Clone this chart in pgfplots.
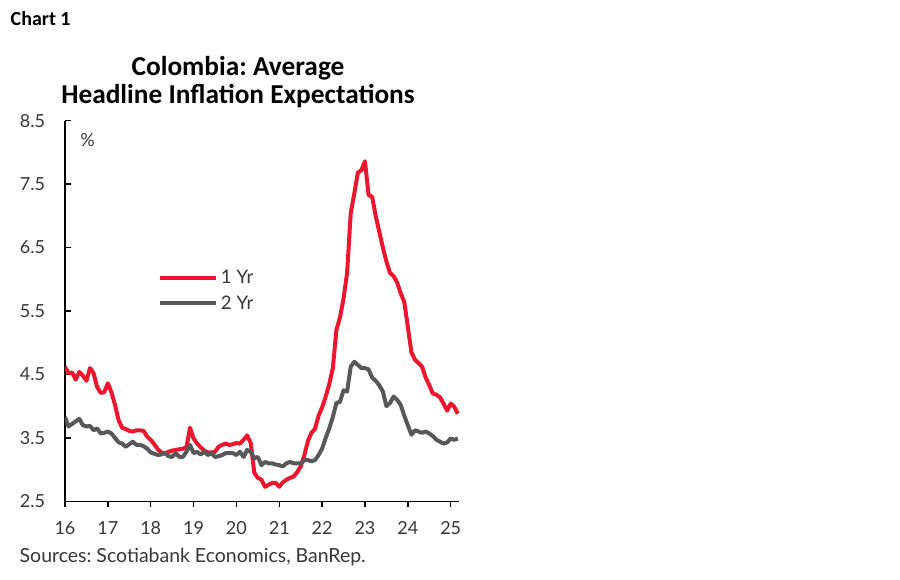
\documentclass[border=0pt]{standalone}
\usepackage{pgfplots}
\pgfplotsset{compat=1.18}
\usepackage{pgfplotstable}
\usepackage{fontspec}
\setmainfont{Lato}
\newfontfamily\titlefont{Carlito}
\frenchspacing

\definecolor{scred}{RGB}{236,22,46}
\definecolor{scgray}{RGB}{88,88,90}
\definecolor{labgray}{RGB}{55,55,55}

% monthly average expectations, Jan 2016 - Mar 2025 (x in years, 16 = 2016)
\pgfplotstableread{
t      oneyr  twoyr
16.000 4.62 3.83
16.083 4.52 3.68
16.167 4.53 3.72
16.250 4.42 3.76
16.333 4.54 3.80
16.417 4.48 3.70
16.500 4.40 3.68
16.583 4.60 3.69
16.667 4.52 3.62
16.750 4.30 3.65
16.833 4.21 3.57
16.917 4.22 3.58
17.000 4.36 3.60
17.083 4.22 3.57
17.167 4.02 3.50
17.250 3.78 3.43
17.333 3.66 3.41
17.417 3.64 3.36
17.500 3.61 3.40
17.583 3.60 3.44
17.667 3.62 3.39
17.750 3.62 3.39
17.833 3.61 3.37
17.917 3.52 3.33
18.000 3.47 3.27
18.083 3.40 3.25
18.167 3.32 3.23
18.250 3.27 3.24
18.333 3.26 3.26
18.417 3.28 3.21
18.500 3.30 3.20
18.583 3.31 3.26
18.667 3.32 3.20
18.750 3.33 3.20
18.833 3.35 3.28
18.917 3.66 3.39
19.000 3.49 3.26
19.083 3.41 3.28
19.167 3.35 3.24
19.250 3.30 3.28
19.333 3.27 3.23
19.417 3.27 3.26
19.500 3.28 3.20
19.583 3.36 3.21
19.667 3.39 3.23
19.750 3.41 3.26
19.833 3.39 3.26
19.917 3.40 3.26
20.000 3.42 3.23
20.083 3.41 3.28
20.167 3.47 3.20
20.250 3.54 3.31
20.333 3.42 3.28
20.417 2.95 3.18
20.500 2.87 3.20
20.583 2.84 3.07
20.667 2.73 3.12
20.750 2.76 3.10
20.833 2.79 3.10
20.917 2.79 3.08
21.000 2.73 3.07
21.083 2.80 3.05
21.167 2.84 3.10
21.250 2.87 3.12
21.333 2.89 3.10
21.417 2.96 3.10
21.500 3.05 3.10
21.583 3.22 3.15
21.667 3.45 3.15
21.750 3.58 3.13
21.833 3.64 3.15
21.917 3.85 3.23
22.000 3.98 3.33
22.083 4.15 3.50
22.167 4.35 3.65
22.250 4.60 3.83
22.333 5.20 4.05
22.417 5.40 4.07
22.500 5.70 4.25
22.583 6.10 4.23
22.667 7.04 4.62
22.750 7.35 4.70
22.833 7.68 4.65
22.917 7.72 4.60
23.000 7.86 4.60
23.083 7.33 4.58
23.167 7.30 4.45
23.250 7.00 4.40
23.333 6.75 4.33
23.417 6.50 4.23
23.500 6.28 4.00
23.583 6.10 4.05
23.667 6.05 4.15
23.750 5.95 4.10
23.833 5.78 4.02
23.917 5.64 3.85
24.000 5.25 3.70
24.083 4.85 3.55
24.167 4.73 3.62
24.250 4.68 3.60
24.333 4.62 3.58
24.417 4.45 3.60
24.500 4.33 3.57
24.583 4.20 3.53
24.667 4.18 3.47
24.750 4.14 3.44
24.833 4.04 3.41
24.917 3.93 3.43
25.000 4.04 3.49
25.083 3.99 3.47
25.167 3.88 3.49
}\expdata

\begin{document}
\begin{tikzpicture}
% page = 900 x 579 px at 0.75pt per px, origin at the axis' lower left corner
\path[use as bounding box] (-48.75pt,-58.3pt) rectangle (626.25pt,376pt);

\begin{axis}[
    at={(0,0)}, anchor=south west,
    width=295.7pt, height=285.5pt, scale only axis,
    xmin=16, xmax=25.2, ymin=2.5, ymax=8.5,
    axis lines=left,
    axis line style={-, black, line width=1.1pt},
    xtick={16,17,18,19,20,21,22,23,24,25},
    xticklabels={16,17,18,19,20,21,22,23,24,25},
    ytick={2.5,3.5,4.5,5.5,6.5,7.5,8.5},
    yticklabels={2.5,3.5,4.5,5.5,6.5,7.5,8.5},
    tick align=inside,
    major tick length=4.5pt,
    tick style={black, line width=1.1pt},
    major x tick style={yshift=-4.5pt},
    xticklabel style={font=\fontsize{13.5}{15}\selectfont, text=labgray, yshift=-11.5pt},
    yticklabel style={font=\fontsize{13.5}{15}\selectfont, text=labgray, xshift=-11.5pt},
    legend style={at={(0.236,0.553)}, anchor=west, draw=none, fill=none,
        inner sep=0pt, row sep=3.2pt,
        font=\fontsize{14}{16}\selectfont, text=labgray},
    legend cell align=left,
    legend image code/.code={\draw[#1] (0pt,0pt) -- (42pt,0pt);},
]
\addplot[scred, line width=3pt, line join=round] table[x=t, y=oneyr] {\expdata};
\addlegendentry{1 Yr}
\addplot[scgray, line width=3pt, line join=round] table[x=t, y=twoyr] {\expdata};
\addlegendentry{2 Yr}
\end{axis}

\node[anchor=base west, font=\titlefont\bfseries\fontsize{15}{18}\selectfont]
    at (-44.25pt,356.5pt) {Chart 1};
\node[anchor=base, font=\titlefont\bfseries\fontsize{20.5}{24}\selectfont]
    at (129.75pt,319.7pt) {Colombia: Average};
\node[anchor=base, font=\titlefont\bfseries\fontsize{20.5}{24}\selectfont]
    at (129.75pt,298.2pt) {Headline Inflation Expectations};
\node[font=\fontsize{13.5}{15}\selectfont, text=labgray] at (16.9pt,271pt) {\%};
\node[anchor=base west, font=\fontsize{14.6}{17}\selectfont, text=labgray]
    at (-37.5pt,-45.5pt) {Sources: Scotiabank Economics, BanRep.};
\end{tikzpicture}
\end{document}
